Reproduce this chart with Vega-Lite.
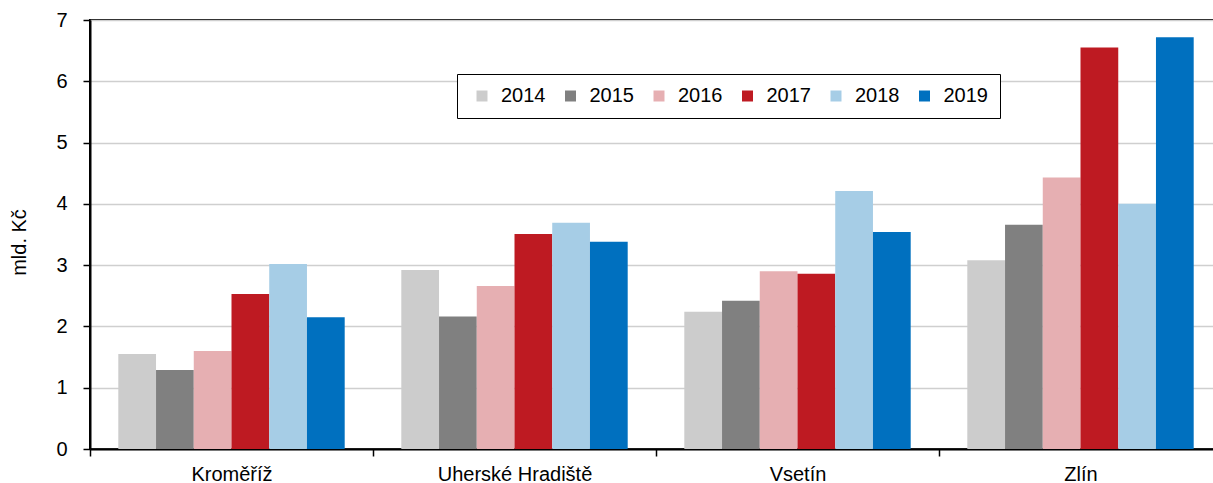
{
  "$schema": "https://vega.github.io/schema/vega-lite/v6.json",
  "width": 1132,
  "height": 429,
  "autosize": "none",
  "padding": {"left": 90, "top": 20, "right": 0, "bottom": 34},
  "config": {
    "font": "Liberation Sans",
    "view": {"stroke": "black", "strokeWidth": 2},
    "bar": {"stroke": null}
  },
  "data": {
    "values": [
      {"okres": "Kroměříž", "rok": "2014", "hodnota": 1.55},
      {"okres": "Kroměříž", "rok": "2015", "hodnota": 1.29},
      {"okres": "Kroměříž", "rok": "2016", "hodnota": 1.60},
      {"okres": "Kroměříž", "rok": "2017", "hodnota": 2.53},
      {"okres": "Kroměříž", "rok": "2018", "hodnota": 3.02},
      {"okres": "Kroměříž", "rok": "2019", "hodnota": 2.15},
      {"okres": "Uherské Hradiště", "rok": "2014", "hodnota": 2.92},
      {"okres": "Uherské Hradiště", "rok": "2015", "hodnota": 2.16},
      {"okres": "Uherské Hradiště", "rok": "2016", "hodnota": 2.66},
      {"okres": "Uherské Hradiště", "rok": "2017", "hodnota": 3.51},
      {"okres": "Uherské Hradiště", "rok": "2018", "hodnota": 3.69},
      {"okres": "Uherské Hradiště", "rok": "2019", "hodnota": 3.38},
      {"okres": "Vsetín", "rok": "2014", "hodnota": 2.24},
      {"okres": "Vsetín", "rok": "2015", "hodnota": 2.42},
      {"okres": "Vsetín", "rok": "2016", "hodnota": 2.90},
      {"okres": "Vsetín", "rok": "2017", "hodnota": 2.86},
      {"okres": "Vsetín", "rok": "2018", "hodnota": 4.21},
      {"okres": "Vsetín", "rok": "2019", "hodnota": 3.54},
      {"okres": "Zlín", "rok": "2014", "hodnota": 3.08},
      {"okres": "Zlín", "rok": "2015", "hodnota": 3.66},
      {"okres": "Zlín", "rok": "2016", "hodnota": 4.43},
      {"okres": "Zlín", "rok": "2017", "hodnota": 6.55},
      {"okres": "Zlín", "rok": "2018", "hodnota": 4.0},
      {"okres": "Zlín", "rok": "2019", "hodnota": 6.72}
    ]
  },
  "mark": {"type": "bar"},
  "encoding": {
    "x": {
      "field": "okres",
      "type": "nominal",
      "sort": ["Kroměříž", "Uherské Hradiště", "Vsetín", "Zlín"],
      "scale": {"paddingInner": 0, "paddingOuter": 0},
      "axis": {
        "title": null,
        "labelAngle": 0,
        "labelFontSize": 20,
        "labelColor": "black",
        "tickBand": "extent",
        "tickSize": 7,
        "tickColor": "black",
        "tickWidth": 1.5,
        "domainColor": "black",
        "domainWidth": 2,
        "labelPadding": 8
      }
    },
    "xOffset": {
      "field": "rok",
      "type": "nominal",
      "scale": {"paddingInner": 0, "paddingOuter": 0.75}
    },
    "y": {
      "field": "hodnota",
      "type": "quantitative",
      "scale": {"domain": [0, 7], "nice": false},
      "axis": {
        "title": "mld. Kč",
        "titleFontSize": 20,
        "titleFontWeight": "normal",
        "titleColor": "black",
        "titleAngle": -90,
        "titleX": -71,
        "titleY": 222,
        "titleAlign": "center",
        "titleBaseline": "middle",
        "values": [0, 1, 2, 3, 4, 5, 6, 7],
        "labelFontSize": 20,
        "labelColor": "black",
        "labelPadding": 16,
        "tickSize": 7,
        "tickColor": "black",
        "tickWidth": 1.5,
        "domainColor": "black",
        "domainWidth": 2,
        "grid": true,
        "gridColor": "#CFCFCF",
        "gridWidth": 1.5
      }
    },
    "color": {
      "field": "rok",
      "type": "nominal",
      "scale": {
        "domain": ["2014", "2015", "2016", "2017", "2018", "2019"],
        "range": ["#CCCCCC", "#808080", "#E6AFB2", "#BE1A22", "#A6CDE6", "#0070BF"]
      },
      "legend": {
        "title": null,
        "orient": "none",
        "legendX": 367,
        "legendY": 54,
        "direction": "horizontal",
        "columns": 6,
        "fillColor": "white",
        "strokeColor": "black",
        "padding": 12,
        "symbolType": "square",
        "symbolSize": 121,
        "symbolStrokeWidth": 0,
        "symbolOffset": 3,
        "labelFontSize": 20,
        "labelColor": "black",
        "labelOffset": 9,
        "columnPadding": 11.5,
        "encode": {"legend": {"update": {"strokeWidth": {"value": 1.5}}}}
      }
    }
  }
}
